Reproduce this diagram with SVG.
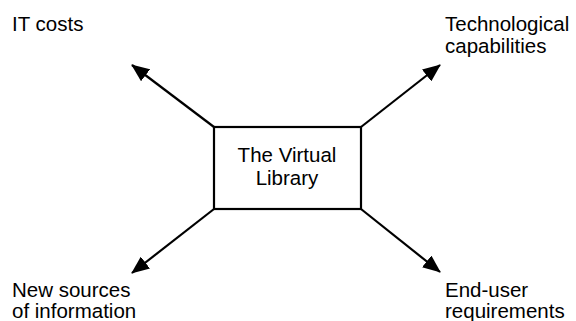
<svg xmlns="http://www.w3.org/2000/svg" width="576" height="321" viewBox="0 0 576 321">
  <style>
    .lbl { font-family: "Liberation Sans", Arial, sans-serif; font-size: 20.5px; fill: #000; }
    .box { fill: #fff; stroke: #000; stroke-width: 2.2; }
    .conn { stroke: #000; stroke-width: 2.2; fill: none; marker-end: url(#head); }
  </style>
  <defs>
    <marker id="head" markerUnits="userSpaceOnUse" markerWidth="19" markerHeight="15" refX="17" refY="7.5" orient="auto">
      <path d="M0,0 L18,7.5 L0,15 Z" fill="#000"/>
    </marker>
  </defs>
  <rect width="576" height="321" fill="#fff"/>

  <g id="connectors">
    <line class="conn" x1="214" y1="127" x2="132" y2="65"/>
    <line class="conn" x1="361" y1="127" x2="440" y2="65"/>
    <line class="conn" x1="214" y1="209" x2="132" y2="273"/>
    <line class="conn" x1="361" y1="209" x2="440" y2="272"/>
  </g>

  <g id="virtual-library">
    <rect class="box" x="214" y="127" width="147" height="82"/>
    <text class="lbl" x="287" y="162" text-anchor="middle">The Virtual</text>
    <text class="lbl" x="287" y="185" text-anchor="middle">Library</text>
  </g>

  <g id="it-costs">
    <text class="lbl" x="12" y="31">IT costs</text>
  </g>

  <g id="tech-capabilities">
    <text class="lbl" x="445" y="31">Technological</text>
    <text class="lbl" x="445" y="53">capabilities</text>
  </g>

  <g id="new-sources">
    <text class="lbl" x="12" y="297">New sources</text>
    <text class="lbl" x="12" y="318">of information</text>
  </g>

  <g id="end-user">
    <text class="lbl" x="445" y="297">End-user</text>
    <text class="lbl" x="445" y="318">requirements</text>
  </g>
</svg>
